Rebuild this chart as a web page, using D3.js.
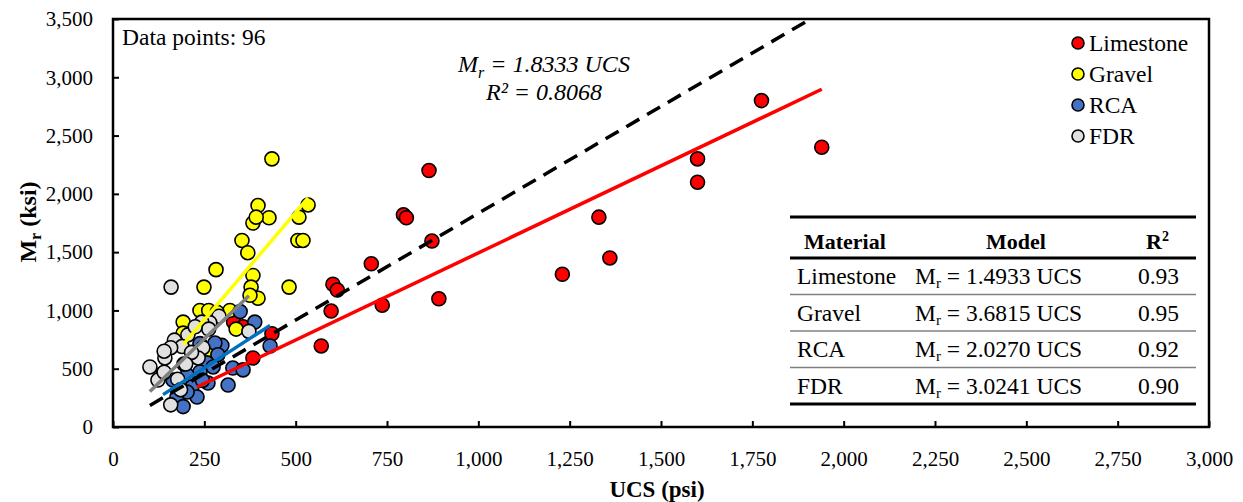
<!DOCTYPE html>
<html><head><meta charset="utf-8">
<script src="https://cdn.jsdelivr.net/npm/d3@7"></script>
<style>body{margin:0;background:#fff}svg{display:block}text{font-family:"Liberation Serif","Times New Roman",serif;fill:#000}</style>
</head><body><svg id="c" width="1243" height="502"></svg>
<script>
// ---- data ----
const limestone = [[1940,2400],[1775,2800],[1600,2300],[1600,2100],[1330,1800],[1360,1450],[1230,1310],[865,2200],[795,1820],[803,1795],[873,1595],[892,1100],[707,1400],[737,1045],[570,695],[602,1225],[614,1175],[597,995],[435,800],[383,592],[330,900],[356,860],[230,400]];
const gravel = [[435,2300],[397,1900],[427,1795],[383,1750],[392,1800],[509,1800],[534,1905],[353,1600],[506,1600],[520,1600],[369,1495],[282,1350],[383,1300],[249,1200],[378,1200],[482,1200],[397,1105],[375,1130],[238,1000],[262,1000],[320,1000],[192,900],[192,805],[337,840],[265,615],[285,985]];
const rca = [[348,990],[388,900],[430,695],[298,700],[279,720],[287,620],[257,550],[274,515],[328,506],[356,490],[315,360],[238,472],[203,446],[164,403],[137,460],[194,540],[216,343],[260,377],[230,257],[175,257],[192,175],[203,300],[245,400],[238,715]];
const fdr = [[159,1200],[290,950],[265,895],[243,900],[372,820],[262,840],[205,790],[168,745],[189,690],[158,680],[246,680],[142,592],[101,515],[233,592],[123,403],[177,410],[158,190],[185,320],[215,640],[225,860],[140,650],[199,540],[140,470]];
const seriesNames = ["Limestone","Gravel","RCA","FDR"];
const seriesData = [limestone, gravel, rca, fdr];
const slopes = [1.4933, 3.6815, 2.0270, 3.0241];
const r2 = ["0.93","0.95","0.92","0.90"];
const overallSlope = 1.8333, overallR2 = "0.8068";
const xTicks = d3.range(0, 3001, 250);
const yTicks = d3.range(0, 3501, 500);
const fills = ["#FF0000","#FFFF00","#4472C4","#E0E0E0"];
const lineColors = ["#FF0000","#FFFF00","#0070C0","#808080"];

// ---- chart ----
const svg = d3.select("#c");
const L=113,R=1209,T=19,B=427;
const x = d3.scaleLinear().domain([0,3000]).range([L,R]);
const y = d3.scaleLinear().domain([0,3500]).range([B,T]);
const fmt = d3.format(",");

svg.append("defs").append("clipPath").attr("id","clip").append("rect").attr("x",L).attr("y",T).attr("width",R-L).attr("height",B-T);

// axes
const xa = svg.append("g").attr("transform",`translate(0,${B})`)
  .call(d3.axisBottom(x).tickValues(xTicks).tickFormat(fmt).tickSizeInner(-6).tickSizeOuter(0).tickPadding(24));
const ya = svg.append("g").attr("transform",`translate(${L},0)`)
  .call(d3.axisLeft(y).tickValues(yTicks).tickFormat(fmt).tickSizeInner(-6).tickSizeOuter(0).tickPadding(20));
[xa,ya].forEach(g=>{g.select(".domain").remove();g.attr("font-family",null).attr("font-size",null);
  g.selectAll("line").attr("stroke","#000").attr("stroke-width",2);
  g.selectAll("text").style("font-size","21px").attr("fill","#000");});
svg.append("rect").attr("x",L).attr("y",T).attr("width",R-L).attr("height",B-T).attr("fill","none").attr("stroke","#000").attr("stroke-width",2.5);

// points
const plot = svg.append("g");
seriesData.forEach((data,i)=>{
  plot.append("g").selectAll("circle").data(data).join("circle")
    .attr("cx",d=>x(d[0])).attr("cy",d=>y(d[1])).attr("r",7)
    .attr("fill",fills[i]).attr("stroke","#000").attr("stroke-width",1.6);
});

// trend lines
const lg = svg.append("g").attr("clip-path","url(#clip)");
seriesData.forEach((data,i)=>{
  const ext = d3.extent(data,d=>d[0]);
  lg.append("line").attr("x1",x(ext[0])).attr("y1",y(ext[0]*slopes[i]))
    .attr("x2",x(ext[1])).attr("y2",y(ext[1]*slopes[i]))
    .attr("stroke",lineColors[i]).attr("stroke-width",3.5);
});
const all = seriesData.flat();
const ea = d3.extent(all,d=>d[0]);
lg.append("line").attr("x1",x(ea[0])).attr("y1",y(ea[0]*overallSlope))
  .attr("x2",x(ea[1])).attr("y2",y(ea[1]*overallSlope))
  .attr("stroke","#000").attr("stroke-width",3.5).attr("stroke-dasharray","15,9");

// texts
svg.append("text").attr("x",122).attr("y",45).style("font-size","23.5px").text("Data points: "+all.length);
const eq = svg.append("text").attr("x",544).attr("y",72).attr("text-anchor","middle").style("font-size","24px").style("font-style","italic");
eq.append("tspan").text("M");
eq.append("tspan").attr("dy",6).style("font-size","16px").text("r");
eq.append("tspan").attr("dy",-6).text(" = "+overallSlope.toFixed(4)+" UCS");
svg.append("text").attr("x",544).attr("y",100).attr("text-anchor","middle").style("font-size","24px").style("font-style","italic").text("R² = "+overallR2);

// axis titles
svg.append("text").attr("x",657).attr("y",497).attr("text-anchor","middle").style("font-size","23px").style("font-weight","bold").text("UCS (psi)");
const yt = svg.append("text").attr("transform","translate(36,222) rotate(-90)").attr("text-anchor","middle").style("font-size","24px").style("font-weight","bold");
yt.append("tspan").text("M");
yt.append("tspan").attr("dy",5).style("font-size","16px").text("r");
yt.append("tspan").attr("dy",-5).text(" (ksi)");

// legend
const leg = svg.append("g");
seriesNames.forEach((n,i)=>{
  const cy = 43 + i*31;
  leg.append("circle").attr("cx",1078).attr("cy",cy).attr("r",6).attr("fill",fills[i]).attr("stroke","#000").attr("stroke-width",1.6);
  leg.append("text").attr("x",1089).attr("y",cy+8).style("font-size","23.5px").text(n);
});

// table
const tb = svg.append("g");
const tx1=790, tx2=1196;
const hLine = (yy,w,c)=>tb.append("line").attr("x1",tx1).attr("x2",tx2).attr("y1",yy).attr("y2",yy).attr("stroke",c).attr("stroke-width",w);
hLine(217,3,"#000"); hLine(258,3,"#000");
const rowH = 36.5;
tb.append("text").attr("x",804).attr("y",249).style("font-size","22px").style("font-weight","bold").text("Material");
tb.append("text").attr("x",1016).attr("y",249).attr("text-anchor","middle").style("font-size","22px").style("font-weight","bold").text("Model");
const rh = tb.append("text").attr("x",1146).attr("y",249).style("font-size","22px").style("font-weight","bold");
rh.append("tspan").text("R");
rh.append("tspan").attr("dy",-8).style("font-size","14px").text("2");
seriesNames.forEach((n,i)=>{
  const top = 258 + i*rowH, base = top + rowH/2 + 8;
  tb.append("text").attr("x",797).attr("y",base).style("font-size","23.5px").text(n);
  const m = tb.append("text").attr("x",915).attr("y",base).style("font-size","23.5px");
  m.append("tspan").text("M");
  m.append("tspan").attr("dy",4).style("font-size","15px").text("r");
  m.append("tspan").attr("dy",-4).text(" = "+slopes[i].toFixed(4)+" UCS");
  tb.append("text").attr("x",1179).attr("y",base).attr("text-anchor","end").style("font-size","23.5px").text(r2[i]);
  if(i<3) hLine(top+rowH,1.5,"#808080");
});
hLine(258+4*rowH,3,"#000");
</script></body></html>
